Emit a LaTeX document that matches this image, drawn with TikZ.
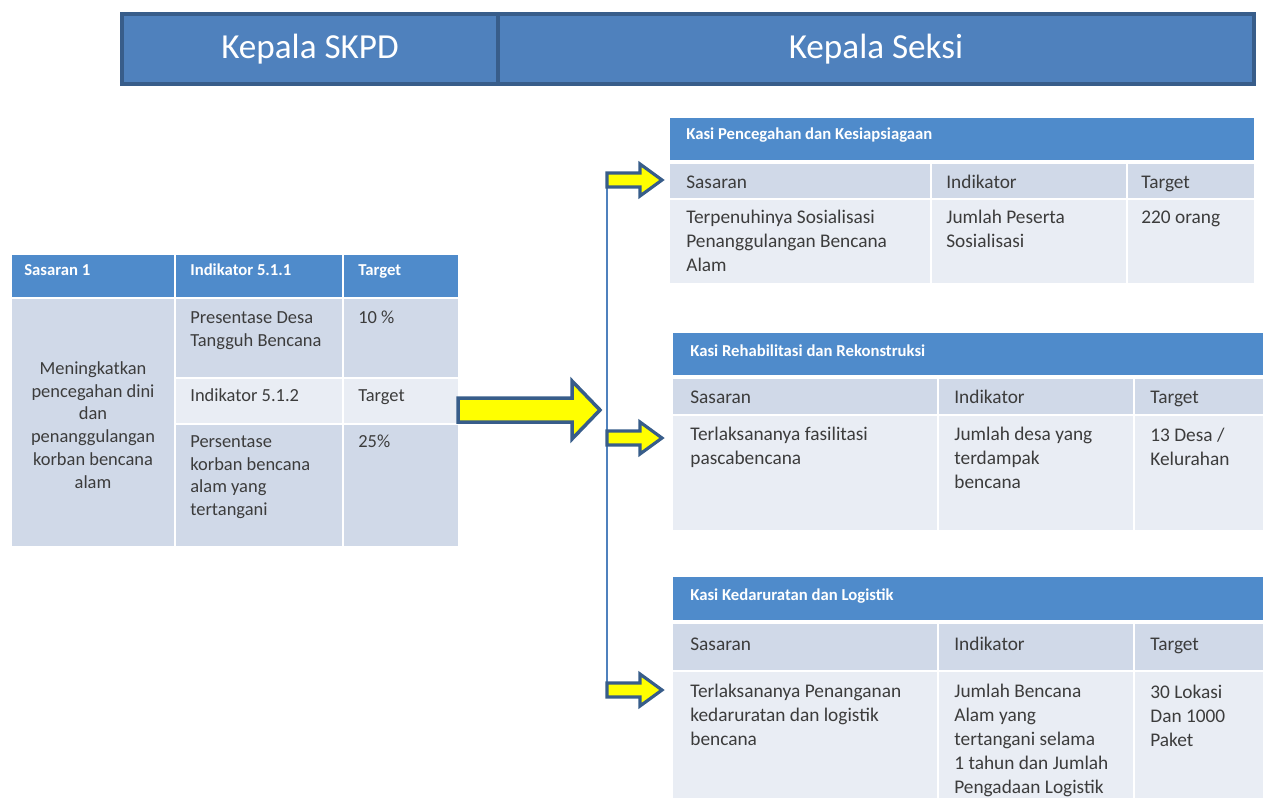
\documentclass[tikz,border=0pt]{standalone}
\usepackage{fontspec}
\setmainfont{Carlito}
\usepackage{xcolor}
\usepackage{tikz}
\usetikzlibrary{positioning, arrows.meta}
\definecolor{hBlue}{HTML}{4F81BD}
\definecolor{hEdge}{HTML}{385D8A}
\definecolor{tHead}{HTML}{4F8BCB}
\definecolor{tRowA}{HTML}{D0D9E8}
\definecolor{tRowB}{HTML}{E9EDF4}
\definecolor{tInk}{HTML}{3C3C3C}
\definecolor{aYellow}{HTML}{FFFF00}

\begin{document}
\begin{tikzpicture}[x=0.02cm, y=-0.02cm,
          topbox/.style={draw=hEdge, line width=2.2pt, fill=hBlue, text=white,
            font=\fontsize{20}{24}\selectfont, minimum height=1.4cm, inner sep=0pt},
          kop/.style={fill=tHead},
          rowa/.style={fill=tRowA},
          rowb/.style={fill=tRowB},
          hd/.style={text=white, font=\fontsize{9.5}{11}\selectfont\bfseries, anchor=base west, inner sep=0pt},
          txt/.style={text=tInk, font=\fontsize{11}{13.6}\selectfont, anchor=north west, align=left, inner sep=0pt},
          stxt/.style={text=tInk, font=\fontsize{10.5}{13}\selectfont, anchor=north west, align=left, inner sep=0pt},
          blk/.style={draw=hEdge, line width=1.8pt, fill=aYellow, line join=miter}]
        \useasboundingbox (0,0) rectangle (1263,798);
        % top header
        \node[topbox, minimum width=7.52cm] (skpd) at (310,49) {\raisebox{-2pt}{Kepala SKPD}};
        \node[topbox, minimum width=15.12cm] (seksi) at (876,49) {\raisebox{-2pt}{Kepala Seksi}};
        % left table
        \fill[kop] (12,255) rectangle (174,297);
        \fill[kop] (176,255) rectangle (342,297);
        \fill[kop] (344,255) rectangle (458,297);
        \fill[rowa] (12,299) rectangle (174,546);
        \fill[rowa] (176,299) rectangle (342,377);
        \fill[rowa] (344,299) rectangle (458,377);
        \fill[rowb] (176,379) rectangle (342,423);
        \fill[rowb] (344,379) rectangle (458,423);
        \fill[rowa] (176,425) rectangle (342,546);
        \fill[rowa] (344,425) rectangle (458,546);
        \node[hd] (sas1) at (24,275) {Sasaran 1};
        \node[hd] (ind11) at (190,275) {Indikator 5.1.1};
        \node[hd] (tgt0) at (358,275) {Target};
        \node[stxt, anchor=center, align=center] (goal) at (93,425)
          {Meningkatkan\\pencegahan dini\\dan\\penanggulangan\\korban bencana\\alam};
        \node[stxt] (ind1) at (190,311) {Presentase Desa\\Tangguh Bencana};
        \node[stxt] (tgt1) at (358,311) {10 \%};
        \node[stxt, anchor=base west] (ind12) at (190,401) {Indikator 5.1.2};
        \node[stxt, anchor=base west] (tgt2) at (358,401) {Target};
        \node[stxt] (ind2) at (190,435) {Persentase\\korban bencana\\alam yang\\tertangani};
        \node[stxt] (tgt3) at (358,435) {25\%};
        % table Pencegahan
        \fill[kop] (670,118) rectangle (1254,160);
        \fill[rowa] (670,164) rectangle (930,198);
        \fill[rowa] (932,164) rectangle (1126,198);
        \fill[rowa] (1128,164) rectangle (1254,198);
        \fill[rowb] (670,200) rectangle (930,283);
        \fill[rowb] (932,200) rectangle (1126,283);
        \fill[rowb] (1128,200) rectangle (1254,283);
        \node[hd] (kasiA) at (686,139) {Kasi Pencegahan dan Kesiapsiagaan};
        \node[txt, anchor=base west] (sasA) at (686,188) {Sasaran};
        \node[txt, anchor=base west] (indA) at (946,188) {Indikator};
        \node[txt, anchor=base west] (tgtA) at (1141,188) {Target};
        \node[txt] (sasAb) at (686,210) {Terpenuhinya Sosialisasi\\Penanggulangan Bencana\\Alam};
        \node[txt] (indAb) at (946,210) {Jumlah Peserta\\Sosialisasi};
        \node[txt] (tgtAb) at (1141,211) {220 orang};
        % table Rehabilitasi
        \fill[kop] (673,333) rectangle (1263,375);
        \fill[rowa] (673,379) rectangle (937,414);
        \fill[rowa] (939,379) rectangle (1133,414);
        \fill[rowa] (1135,379) rectangle (1263,414);
        \fill[rowb] (673,416) rectangle (937,530);
        \fill[rowb] (939,416) rectangle (1133,530);
        \fill[rowb] (1135,416) rectangle (1263,530);
        \node[hd] (kasiB) at (690,356) {Kasi Rehabilitasi dan Rekonstruksi};
        \node[txt, anchor=base west] (sasB) at (690,403) {Sasaran};
        \node[txt, anchor=base west] (indB) at (954,403) {Indikator};
        \node[txt, anchor=base west] (tgtB) at (1150,403) {Target};
        \node[txt] (sasBb) at (690,427) {Terlaksananya fasilitasi\\pascabencana};
        \node[txt] (indBb) at (954,427) {Jumlah desa yang\\terdampak\\bencana};
        \node[txt] (tgtBb) at (1150,428) {13 Desa /\\Kelurahan};
        % table Kedaruratan
        \fill[kop] (673,577) rectangle (1263,620);
        \fill[rowa] (673,624) rectangle (937,670);
        \fill[rowa] (939,624) rectangle (1133,670);
        \fill[rowa] (1135,624) rectangle (1263,670);
        \fill[rowb] (673,672) rectangle (937,798);
        \fill[rowb] (939,672) rectangle (1133,798);
        \fill[rowb] (1135,672) rectangle (1263,798);
        \node[hd] (kasiC) at (690,600) {Kasi Kedaruratan dan Logistik};
        \node[txt, anchor=base west] (sasC) at (690,650) {Sasaran};
        \node[txt, anchor=base west] (indC) at (954,650) {Indikator};
        \node[txt, anchor=base west] (tgtC) at (1150,650) {Target};
        \node[txt] (sasCb) at (690,684) {Terlaksananya Penanganan\\kedaruratan dan logistik\\bencana};
        \node[txt] (indCb) at (954,684) {Jumlah Bencana\\Alam yang\\tertangani selama\\1 tahun dan Jumlah\\Pengadaan Logistik};
        \node[txt] (tgtCb) at (1150,685) {30 Lokasi\\Dan 1000\\Paket};
        % bus and arrows
        \coordinate (busA) at (607,180);
        \coordinate (busB) at (607,438);
        \coordinate (busC) at (607,690);
        \draw[hBlue, line width=1.2pt] (busA) -- (busC);
        \draw[blk, line width=2pt] (458,398) -- (572,398) -- (572,381) -- (600,410)
          -- (572,439) -- (572,422) -- (458,422) -- cycle;
        \draw[blk] (busA) ++(0,-7) -- ++(33,0) -- ++(0,-9) -- ++(22,16) -- ++(-22,16)
          -- ++(0,-9) -- ++(-33,0) -- cycle;
        \draw[blk] (busB) ++(0,-7) -- ++(33,0) -- ++(0,-9) -- ++(22,16) -- ++(-22,16)
          -- ++(0,-9) -- ++(-33,0) -- cycle;
        \draw[blk] (busC) ++(0,-7) -- ++(33,0) -- ++(0,-9) -- ++(22,16) -- ++(-22,16)
          -- ++(0,-9) -- ++(-33,0) -- cycle;
      \end{tikzpicture}
\end{document}
